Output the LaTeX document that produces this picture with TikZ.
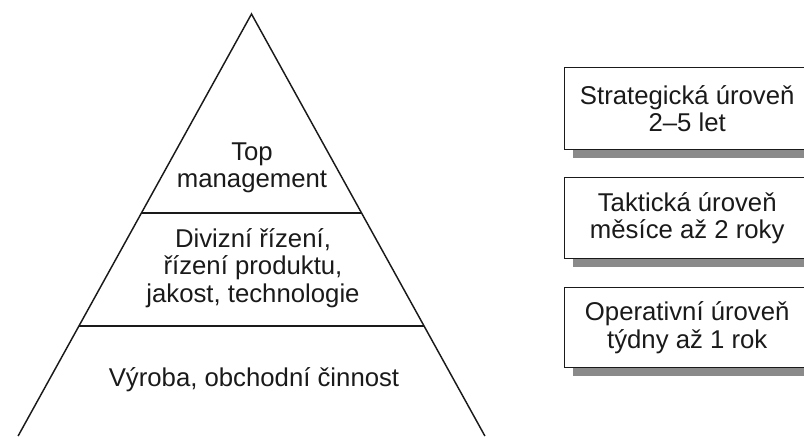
\documentclass[tikz,border=0pt]{standalone}
\usepackage{fontspec}
\setmainfont{Liberation Sans}
\definecolor{ink}{HTML}{1A1A1A}
\definecolor{shade}{HTML}{8A8A8A}
\tikzset{
  x=0.75pt, y=-0.75pt,
  edge/.style={draw=ink, line width=1.1pt},
  label/.style={text=ink, align=center, inner sep=0pt,
    font=\fontsize{19.3}{20.6}\selectfont},
  levelbox/.style={edge, fill=white, minimum width=183.75pt,
    minimum height=61.5pt, inner sep=0pt, anchor=north west},
  boxshadow/.style={fill=shade, draw=none}
}
\begin{document}
\begin{tikzpicture}
\useasboundingbox (0,0) rectangle (804,436);
\clip (0,0) rectangle (804,436);

% pyramid outline, open at the bottom of the page
\coordinate (apex) at (251.5,14);
\coordinate (baseL) at (18.1,436);
\coordinate (baseR) at (484.9,436);
\draw[edge, line join=miter] (baseL) -- (apex) -- (baseR);

% dividing lines between the layers
\coordinate (d1L) at (141.5,213);
\coordinate (d1R) at (361.5,213);
\coordinate (d2L) at (79,326);
\coordinate (d2R) at (424,326);
\draw[edge] (d1L) -- (d1R);
\draw[edge] (d2L) -- (d2R);

% layer labels
\node[label] (top) at (252,168) {Top\\management};
\node[label] (mid) at (253,268) {Divizní řízení,\\řízení produktu,\\jakost, technologie};
\node[label] (low) at (254,380) {Výroba, obchodní činnost};

% planning horizons with drop shadows
\fill[boxshadow] (573,75) rectangle (820,158);
\node[levelbox] (strat) at (564,67) {};
\node[label] (stratT) at (strat.center) {Strategická úroveň\\2–5 let};

\fill[boxshadow] (573,185) rectangle (820,267);
\node[levelbox, minimum height=60.75pt] (takt) at (564,177) {};
\node[label] (taktT) at (takt.center) {Taktická úroveň\\měsíce až 2 roky};

\fill[boxshadow] (573,295) rectangle (820,376);
\node[levelbox, minimum height=60pt] (oper) at (564,287) {};
\node[label] (operT) at (oper.center) {Operativní úroveň\\týdny až 1 rok};
\end{tikzpicture}
\end{document}
